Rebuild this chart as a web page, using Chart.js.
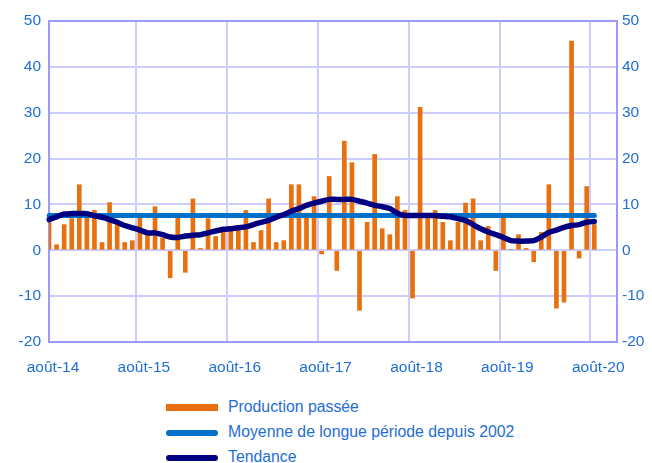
<!DOCTYPE html>
<html>
<head>
<meta charset="utf-8">
<script src="https://cdn.jsdelivr.net/npm/chart.js@4.4.1/dist/chart.umd.min.js"></script>
<style>
  body { margin: 0; background: #fff; font-family: "Liberation Sans", Arial, sans-serif; }
  #wrap { position: relative; width: 652px; height: 463px; }
  #box { position: absolute; left: 0; top: 0; width: 652px; height: 390px; }
  .leg { position: absolute; left: 0; height: 20px; width: 652px; }
  .sym { position: absolute; left: 166px; width: 52px; }
  .txt { position: absolute; left: 228px; top: 0; font-size: 15.8px; line-height: 20px; color: #1F6ED4; }
</style>
</head>
<body>
<div id="wrap">
  <div id="box"><canvas id="chart"></canvas></div>
  <div class="leg" style="top:397px"><div class="sym" style="top:7px;height:7px;background:#E8700E"></div><div class="txt">Production passée</div></div>
  <div class="leg" style="top:422px"><div class="sym" style="top:8px;height:6px;border-radius:3px;background:#0070C8"></div><div class="txt">Moyenne de longue période depuis 2002</div></div>
  <div class="leg" style="top:447px"><div class="sym" style="top:8px;height:6px;border-radius:3px;background:#000080"></div><div class="txt">Tendance</div></div>
</div>
<script>
// août-14 .. août-20, mensuel
var tickLabels = ["août-14", "août-15", "août-16", "août-17", "août-18", "août-19", "août-20"];

var production = [
  7.4, 1.2, 5.6, 6.9, 14.3, 7.0, 8.7, 1.7, 10.4, 5.6, 1.7, 2.1,
  7.1, 3.4, 9.5, 2.7, -6.0, 7.0, -4.8, 11.2, 0.4, 6.9, 3.0, 4.1,
  4.5, 4.5, 8.7, 1.7, 4.3, 11.2, 1.7, 2.1, 14.3, 14.3, 8.1, 11.7,
  -0.8, 16.1, -4.4, 23.8, 19.1, -13.1, 6.1, 20.9, 4.7, 3.4, 11.7, 8.7,
  -10.4, 31.2, 7.1, 8.7, 6.1, 2.1, 6.1, 10.3, 11.2, 2.1, 5.2, -4.4,
  7.1, 0.2, 3.4, 0.4, -2.5, 3.9, 14.3, -12.6, -11.3, 45.6, -1.7, 13.9,
  5.6
];

var tendance = [
  6.7, 7.3, 7.9, 8.0, 8.0, 8.0, 7.5, 7.2, 6.7, 6.1, 5.4, 4.9,
  4.4, 3.8, 3.8, 3.4, 2.9, 2.8, 3.1, 3.3, 3.4, 3.8, 4.2, 4.6,
  4.7, 4.9, 5.1, 5.6, 6.1, 6.5, 7.2, 7.8, 8.5, 9.1, 9.8, 10.3,
  10.7, 11.1, 11.1, 11.1, 11.1, 10.7, 10.3, 9.8, 9.5, 9.1, 8.1, 7.6,
  7.6, 7.6, 7.6, 7.6, 7.4, 7.3, 6.9, 6.5, 5.6, 4.7, 4.0, 3.4,
  2.8, 2.1, 2.0, 2.0, 2.1, 2.9, 3.9, 4.4, 5.0, 5.4, 5.6, 6.1,
  6.3
];

var moyenneValue = 7.6;
var moyenne = production.map(function () { return moyenneValue; });

// categories: one per month, plus a few empty slots at the right of the axis
var categories = [];
for (var i = 0; i < production.length + 3; i++) categories.push(String(i));

var blue = "#1F6ED4";
var gridCol = "#CCCCFF";
var frameCol = "#9B9BFF";
var font = { family: "'Liberation Sans', Arial, sans-serif", size: 15.5 };

var frame = {
  id: "frame",
  beforeDatasetsDraw: function (chart) {
    var a = chart.chartArea, c = chart.ctx;
    c.save();
    c.strokeStyle = frameCol;
    c.lineWidth = 2;
    c.strokeRect(a.left, a.top, a.right - a.left, a.bottom - a.top);
    c.restore();
  }
};

var ctx = document.getElementById("chart").getContext("2d");
new Chart(ctx, {
  type: "bar",
  data: {
    labels: categories,
    datasets: [
      {
        type: "line",
        label: "Tendance",
        data: tendance,
        borderColor: "#000080",
        borderWidth: 5.5,
        pointRadius: 0,
        tension: 0.25,
        borderCapStyle: "round",
        order: 1,
      },
      {
        type: "line",
        label: "Moyenne de longue période depuis 2002",
        data: moyenne,
        borderColor: "#0070C8",
        borderWidth: 5,
        pointRadius: 0,
        borderCapStyle: "round",
        order: 2,
      },
      {
        label: "Production passée",
        data: production,
        backgroundColor: "#E8700E",
        barThickness: 4,
        order: 3,
      },
    ],
  },
  options: {
    responsive: true,
    maintainAspectRatio: false,
    animation: false,
    layout: { padding: { top: 21, left: 0, right: 0, bottom: 0 } },
    plugins: {
      legend: { display: false },
      tooltip: { enabled: false },
    },
    scales: {
      x: {
        offset: false,
        grid: {
          color: function (c) { return c.index % 12 === 0 && c.index <= 72 ? gridCol : "transparent"; },
          lineWidth: 2,
          drawTicks: false,
        },
        border: { display: false },
        ticks: {
          autoSkip: false,
          maxRotation: 0,
          padding: 16,
          labelOffset: 4,
          color: blue,
          font: font,
          callback: function (v, i) { return i % 12 === 0 && i <= 72 ? tickLabels[i / 12] : ""; },
        },
        afterFit: function (s) { s.height = 48; },
      },
      y: {
        position: "left",
        min: -20,
        max: 50,
        grid: { color: gridCol, lineWidth: 2, drawTicks: false },
        border: { display: false },
        ticks: { stepSize: 10, padding: 8, color: blue, font: font },
        afterFit: function (s) { s.width = 49; },
      },
      y2: {
        position: "right",
        min: -20,
        max: 50,
        grid: { display: false, drawTicks: false },
        border: { display: false },
        ticks: { stepSize: 10, padding: 5, color: blue, font: font },
        afterFit: function (s) { s.width = 35; },
      },
    },
  },
  plugins: [frame],
});
</script>
</body>
</html>
